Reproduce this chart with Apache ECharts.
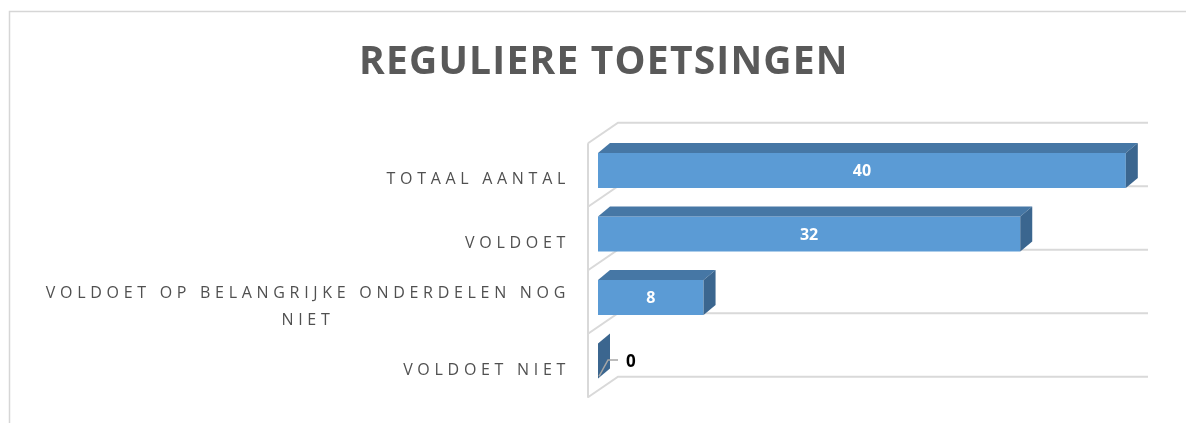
<!DOCTYPE html>
<html>
<head>
<meta charset="utf-8">
<script src="https://cdn.jsdelivr.net/npm/echarts@6/dist/echarts.min.js"></script>
<style>
  html, body { margin: 0; padding: 0; background: #ffffff; }
  #chart { width: 1186px; height: 423px; }
</style>
</head>
<body>
<div id="chart"></div>
<script>
// ---- data ----
const titleText = 'REGULIERE TOETSINGEN';
const categories = ['TOTAAL AANTAL', 'VOLDOET', 'VOLDOET OP BELANGRIJKE ONDERDELEN NOG NIET', 'VOLDOET NIET'];
const values = [40, 32, 8, 0];

// ---- letter spacing (Excel-style spaced caps) ----
(function () {
  const proto = CanvasRenderingContext2D.prototype;
  const desc = Object.getOwnPropertyDescriptor(proto, 'font');
  if (!desc || !('letterSpacing' in proto)) return;
  Object.defineProperty(proto, 'font', {
    configurable: true,
    get: function () { return desc.get.call(this); },
    set: function (v) {
      desc.set.call(this, v);
      const m = /(\d+(?:\.\d+)?)px/.exec(String(v));
      const size = m ? parseFloat(m[1]) : 12;
      const bold = /bold|[6-9]00/.test(String(v));
      let sp = '0px';
      if (size >= 30) sp = '1.2px';
      else if (!bold && size >= 14) sp = '4.7px';
      this.letterSpacing = sp;
    }
  });
})();

const FRONT = '#5B9BD5', TOP = '#4677A5', SIDE = '#3B668F';
const GRIDC = '#d9d9d9';

function wrapWords(s, maxChars) {
  const words = s.split(' ');
  const lines = [];
  let cur = '';
  words.forEach(w => {
    if (cur && (cur + ' ' + w).length > maxChars) { lines.push(cur); cur = w; }
    else cur = cur ? cur + ' ' + w : w;
  });
  if (cur) lines.push(cur);
  return lines;
}

function renderWalls(params, api) {
  if (params.dataIndex !== 0) return;
  const cs = params.coordSys;
  const n = categories.length;
  const band = cs.height / n;
  const children = [];
  const ls = { stroke: GRIDC, lineWidth: 2, fill: null };
  for (let k = 0; k <= n; k++) {
    const yb = cs.y + k * band;
    children.push({ type: 'polyline', shape: { points: [[cs.x - 10, yb + 4.5], [cs.x + 20, yb - 16], [cs.x + cs.width + 9, yb - 16]] }, style: ls });
  }
  children.push({ type: 'line', shape: { x1: cs.x - 10, y1: cs.y + 4.5, x2: cs.x - 10, y2: cs.y + cs.height + 5 }, style: ls });
  return { type: 'group', children: children };
}

function renderBar(params, api) {
  const v = api.value(0), idx = api.value(1);
  const p0 = api.coord([0, idx]), p1 = api.coord([v, idx]);
  const band = api.size([0, 1])[1];
  const h = band * 0.55;
  const yc = p0[1];
  const yT = yc - h / 2, yB = yc + h / 2;
  const x0 = p0[0], x1 = p1[0];
  const dx = 12, dy = -10;
  const children = [];
  const w = x1 - x0;
  if (w > 0.5) {
    children.push({ type: 'rect', shape: { x: x0, y: yT, width: w, height: h }, style: { fill: FRONT } });
    children.push({ type: 'polygon', shape: { points: [[x0, yT], [x0 + dx, yT + dy], [x1 + dx, yT + dy], [x1, yT]] }, style: { fill: TOP } });
  }
  children.push({ type: 'polygon', shape: { points: [[x1, yT], [x1 + dx, yT + dy], [x1 + dx, yB + dy], [x1, yB]] }, style: { fill: SIDE } });
  if (w > 30) {
    children.push({ type: 'text', style: { text: String(v), x: x0 + w / 2, y: yc + 1, align: 'center', verticalAlign: 'middle', fill: '#ffffff', font: 'bold 16px "Open Sans"' } });
  } else {
    children.push({ type: 'polyline', shape: { points: [[x1 + 1, yB - 2], [x1 + 10, yc - 1], [x1 + 20, yc - 1]] }, style: { stroke: '#a6a6a6', lineWidth: 1.5, fill: null } });
    children.push({ type: 'text', style: { text: String(v), x: x1 + 28, y: yc + 1, align: 'left', verticalAlign: 'middle', fill: '#000000', font: 'bold 17px "Open Sans"' } });
  }
  return { type: 'group', children: children };
}

const chart = echarts.init(document.getElementById('chart'), null, { renderer: 'canvas' });
chart.setOption({
  animation: false,
  backgroundColor: '#ffffff',
  title: {
    text: titleText,
    left: 359,
    top: 43,
    padding: 0,
    textStyle: { fontFamily: 'Open Sans', fontWeight: 'bold', fontSize: 39, color: '#595959' }
  },
  graphic: [{
    type: 'polyline', silent: true,
    shape: { points: [[9.5, 423], [9.5, 11.5], [1186, 11.5]] },
    style: { stroke: '#d6d6d6', lineWidth: 1.5, fill: null }
  }],
  grid: { left: 598, top: 138.75, right: 47, bottom: 30.25, containLabel: false, outerBoundsMode: 'none' },
  xAxis: { type: 'value', min: 0, max: 41, show: false },
  yAxis: {
    type: 'category', data: categories, inverse: true,
    axisLine: { show: false }, axisTick: { show: false }, splitLine: { show: false },
    axisLabel: {
      margin: 28,
      align: 'right',
      padding: [18, 0, 0, 0],
      formatter: function (val) { return wrapWords(val, 38).map(l => '{c|' + l + '}').join('\n'); },
      rich: { c: { align: 'center', fontFamily: 'Open Sans', fontSize: 16, color: '#505050', lineHeight: 27 } }
    }
  },
  series: [
    { type: 'custom', name: 'walls', renderItem: renderWalls, data: [[0, 0]], encode: { x: 0, y: 1 }, z: 1, silent: true, clip: false },
    { type: 'custom', name: 'Reguliere toetsingen', renderItem: renderBar, data: values.map((v, i) => [v, i]), encode: { x: 0, y: 1 }, z: 2, clip: false }
  ]
});
</script>
</body>
</html>
